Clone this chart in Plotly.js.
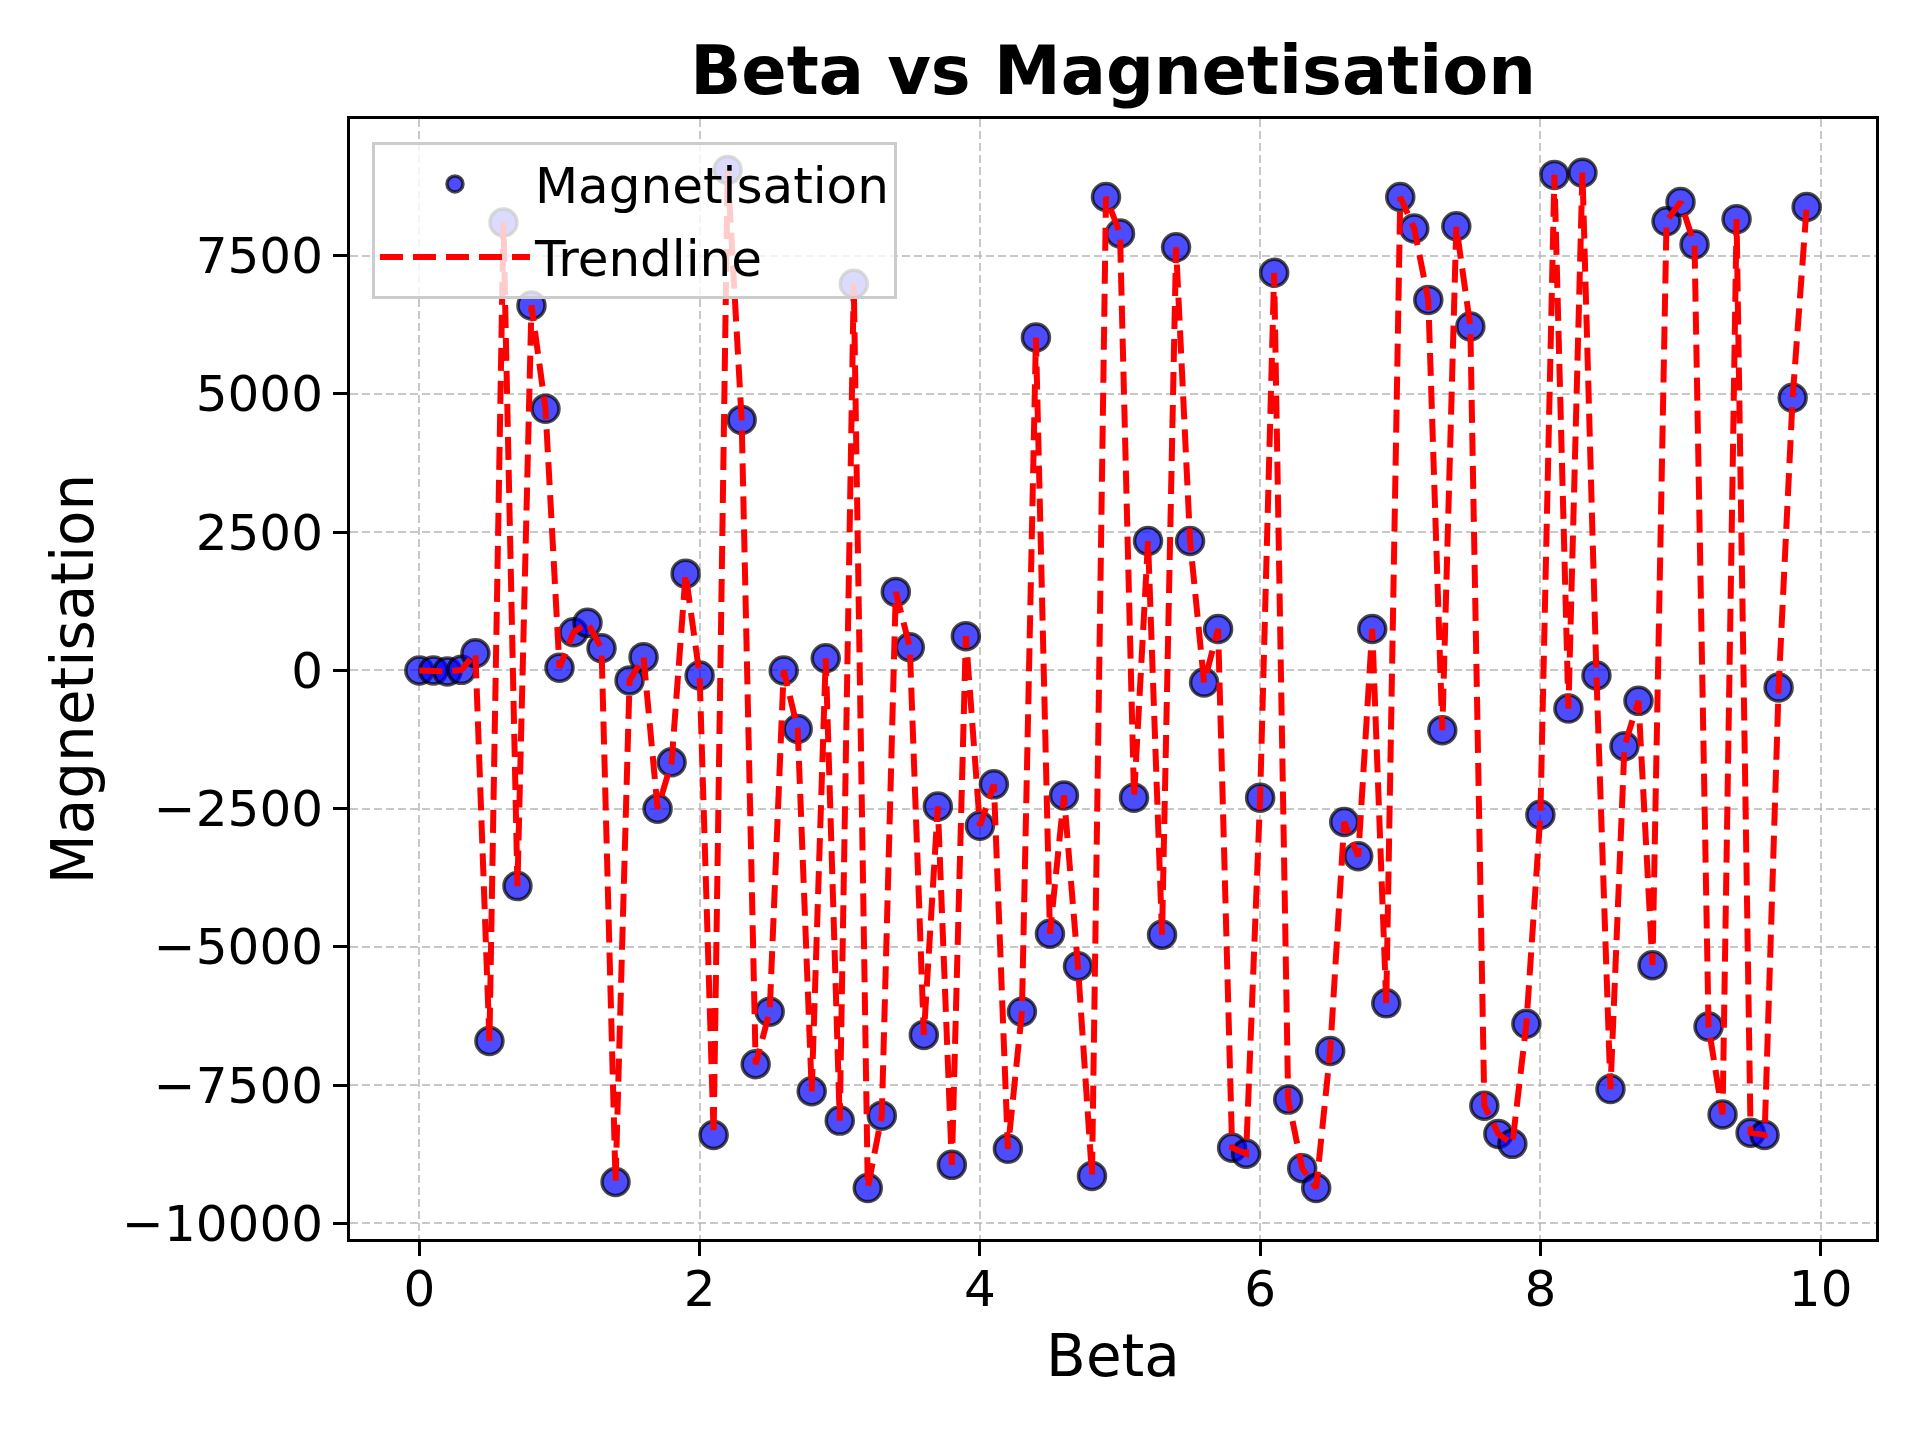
<!DOCTYPE html>
<html>
<head>
<meta charset="utf-8">
<script src="https://cdn.plot.ly/plotly-3.0.1.min.js"></script>
<style>html,body{margin:0;padding:0;background:#fff;}#chart{width:1920px;height:1440px;}</style>
</head>
<body>
<div id="chart"></div>
<script>
const beta = [0.0,0.1,0.2,0.3,0.4,0.5,0.6,0.7,0.8,0.9,
  1.0,1.1,1.2,1.3,1.4,1.5,1.6,1.7,1.8,1.9,
  2.0,2.1,2.2,2.3,2.4,2.5,2.6,2.7,2.8,2.9,
  3.0,3.1,3.2,3.3,3.4,3.5,3.6,3.7,3.8,3.9,
  4.0,4.1,4.2,4.3,4.4,4.5,4.6,4.7,4.8,4.9,
  5.0,5.1,5.2,5.3,5.4,5.5,5.6,5.7,5.8,5.9,
  6.0,6.1,6.2,6.3,6.4,6.5,6.6,6.7,6.8,6.9,
  7.0,7.1,7.2,7.3,7.4,7.5,7.6,7.7,7.8,7.9,
  8.0,8.1,8.2,8.3,8.4,8.5,8.6,8.7,8.8,8.9,
  9.0,9.1,9.2,9.3,9.4,9.5,9.6,9.7,9.8,9.9];
const magnetisation = [0,0,-20,10,310,-6700,8100,-3900,6600,4730,
  50,690,860,400,-9250,-180,240,-2500,-1660,1750,
  -90,-8400,9050,4530,-7120,-6170,0,-1060,-7610,220,
  -8140,6990,-9360,-8050,1420,420,-6590,-2460,-8940,620,
  -2810,-2060,-8650,-6170,6020,-4760,-2260,-5350,-9140,8560,
  7900,-2300,2340,-4780,7650,2340,-220,750,-8630,-8740,
  -2300,7190,-7760,-9000,-9360,-6880,-2740,-3360,750,-6020,
  8560,7990,6700,-1080,8030,6220,-7870,-8380,-8560,-6390,
  -2610,8960,-690,9000,-90,-7570,-1370,-550,-5330,8120,
  8470,7700,-6440,-8030,8160,-8360,-8400,-310,4930,8380];
const xTicks = [0,2,4,6,8,10];
const yTicks = [-10000,-7500,-5000,-2500,0,2500,5000,7500];

const xmin = Math.min(...beta), xmax = Math.max(...beta);
const ymin = Math.min(...magnetisation), ymax = Math.max(...magnetisation);
const xm = (xmax - xmin) * 0.05, ym = (ymax - ymin) * 0.05;

const font = 'DejaVu Sans, sans-serif';
const traces = [
  {x: beta, y: magnetisation, type: 'scatter', mode: 'markers', name: 'Magnetisation', legendgroup: 'a',
   marker: {size: 27, color: 'rgba(0,0,255,0.7)', line: {color: 'rgba(0,0,0,0.7)', width: 3.5}}},
  {x: beta, y: magnetisation, type: 'scatter', mode: 'lines', name: 'Trendline', legendgroup: 'b',
   line: {color: '#ff0000', width: 6, dash: '23px,10px'}}
];
const axisCommon = {
  showline: true, mirror: true, linecolor: '#000', linewidth: 3,
  ticks: 'outside', ticklen: 14, tickwidth: 3, tickcolor: '#000',
  showgrid: true, gridcolor: 'rgba(176,176,176,0.7)', gridwidth: 2, griddash: '8px,4px',
  zeroline: false, tickfont: {family: font, size: 50, color: '#000'}
};
const layout = {
  width: 1920, height: 1440,
  paper_bgcolor: '#fff', plot_bgcolor: '#fff',
  margin: {l: 350, r: 44, t: 119, b: 201},
  title: {text: '<b>Beta vs Magnetisation</b>', font: {family: font, size: 67, color: '#000'},
          x: 0.5, xref: 'paper', xanchor: 'center', y: 0.951, yref: 'container', yanchor: 'middle'},
  xaxis: Object.assign({}, axisCommon, {
    range: [xmin - xm, xmax + xm], tickvals: xTicks, ticktext: xTicks.map(String),
    ticklabelstandoff: -10,
    title: {text: 'Beta', font: {family: font, size: 58, color: '#000'}, standoff: 19}
  }),
  yaxis: Object.assign({}, axisCommon, {
    range: [ymin - ym, ymax + ym], tickvals: yTicks, tickformat: 'd',
    title: {text: 'Magnetisation', font: {family: font, size: 58, color: '#000'}, standoff: 10}
  }),
  showlegend: true,
  legend: {x: 0.0144, y: 0.9795, xanchor: 'left', yanchor: 'top',
    bgcolor: 'rgba(255,255,255,0.8)', bordercolor: '#cccccc', borderwidth: 3,
    font: {family: font, size: 50, color: '#000'}, itemwidth: 150, tracegroupgap: 5}
};
Plotly.newPlot('chart', traces, layout, {displayModeBar: false, staticPlot: true});
</script>
</body>
</html>
